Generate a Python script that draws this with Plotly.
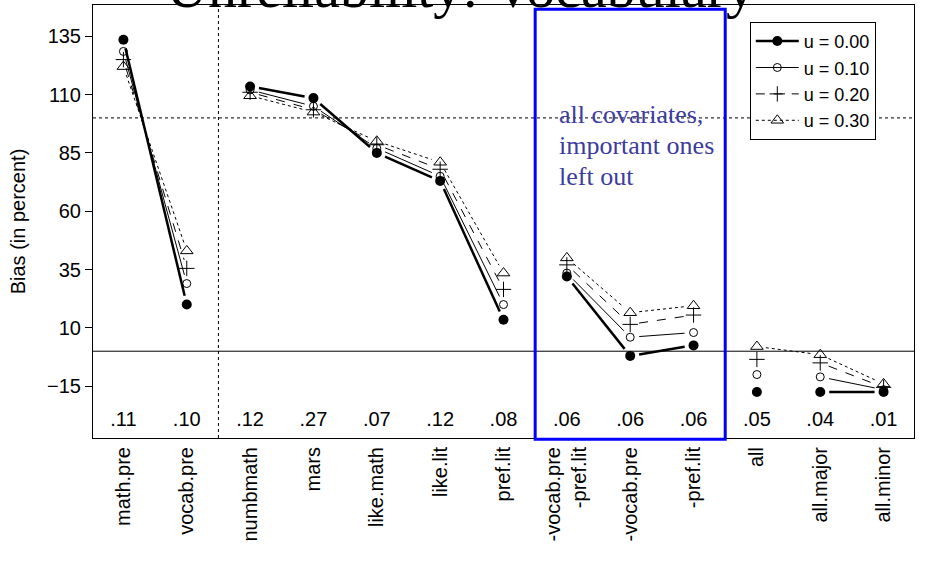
import math
import plotly.graph_objects as go

categories = ["math.pre", "vocab.pre", "numbmath", "mars", "like.math", "like.lit", "pref.lit",
              "-vocab.pre<br>-pref.lit", "-vocab.pre", "-pref.lit", "all", "all.major", "all.minor"]
bottom_labels = [".11", ".10", ".12", ".27", ".07", ".12", ".08", ".06", ".06", ".06", ".05", ".04", ".01"]

u000 = [133.5, 20.0, 113.5, 108.5, 85.0, 73.0, 13.5, 32.0, -2.0, 2.5, -17.5, -17.5, -17.5]
u010 = [128.5, 29.0, 112.0, 105.0, 87.0, 75.0, 20.0, 33.5, 6.0, 8.0, -10.0, -11.0, -16.5]
u020 = [125.0, 35.5, 111.0, 103.5, 88.5, 78.0, 26.5, 37.0, 11.5, 15.5, -3.5, -5.0, -15.5]
u030 = [122.0, 43.0, 109.5, 102.5, 90.0, 81.0, 33.5, 40.0, 16.5, 19.5, 2.0, -1.5, -14.0]

groups_a = [[0, 1], [2, 3, 4, 5, 6], [7, 8, 9], [11, 12]]
groups_b = [[0, 1], [2, 3, 4, 5, 6], [7, 8, 9], [10, 11, 12]]

ytickvals = [135, 110, 85, 60, 35, 10, -15]
note_lines = ["all covariates,", "important ones", "left out"]

W, H = 929, 577
ML, MR, MT, MB = 93, 15, 5, 139
XR = [0.52, 13.48]
YR = [-37.2, 148.4]
pxx = (W - ML - MR) / (XR[1] - XR[0])
pxy = (H - MT - MB) / (YR[1] - YR[0])

xs = list(range(1, len(categories) + 1))
SANS = "Liberation Sans"
SERIF = "Liberation Serif"
FS = 20


def gapped(ys, groups, gap=9.0):
    X, Y = [], []
    for g in groups:
        for a, b in zip(g[:-1], g[1:]):
            x1, y1, x2, y2 = xs[a], ys[a], xs[b], ys[b]
            L = math.hypot((x2 - x1) * pxx, (y2 - y1) * pxy)
            f = gap / L
            X += [x1 + (x2 - x1) * f, x2 - (x2 - x1) * f, None]
            Y += [y1 + (y2 - y1) * f, y2 - (y2 - y1) * f, None]
    return X, Y


series = [
    ("u = 0.00", u000, groups_a, dict(width=2.5, dash="solid"),
     dict(symbol="circle", size=10, color="black")),
    ("u = 0.10", u010, groups_a, dict(width=1, dash="solid"),
     dict(symbol="circle-open", size=8, color="black", line=dict(width=1, color="black"))),
    ("u = 0.20", u020, groups_a, dict(width=1, dash="dash"),
     dict(symbol="cross-thin-open", size=11, color="black", line=dict(width=1, color="black"))),
    ("u = 0.30", u030, groups_b, dict(width=1, dash="dot"),
     dict(symbol="triangle-up-open", size=11, color="black", line=dict(width=1, color="black"))),
]

fig = go.Figure()
for name, ys, groups, ln, mk in series:
    X, Y = gapped(ys, groups)
    fig.add_trace(go.Scatter(x=X, y=Y, mode="lines", line=dict(color="black", **ln),
                             showlegend=False, hoverinfo="skip"))
    fig.add_trace(go.Scatter(x=xs, y=ys, mode="markers", marker=mk, showlegend=False))
    fig.add_trace(go.Scatter(x=[None], y=[None], mode="lines+markers", name=name,
                             line=dict(color="black", **ln), marker=mk))

fig.add_trace(go.Scatter(x=xs, y=[-30] * len(xs), mode="text", text=bottom_labels,
                         textfont=dict(family=SANS, size=FS, color="black"),
                         showlegend=False, hoverinfo="skip"))

# reference lines
fig.add_hline(y=0, line=dict(color="black", width=1), layer="below")
fig.add_hline(y=100, line=dict(color="black", width=1, dash="dot"), layer="below")
fig.add_vline(x=2.5, line=dict(color="black", width=1, dash="dot"), layer="below")

# highlight box
fig.add_shape(type="rect", xref="x", yref="paper", x0=7.5, x1=10.5, y0=-0.003, y1=0.99,
              line=dict(color="#0000ff", width=3), fillcolor="rgba(0,0,0,0)")

for i, line in enumerate(note_lines):
    fig.add_annotation(x=7.85, y=88, xref="x", yref="y", xanchor="left", yanchor="middle",
                       yshift=31 * (1 - i), align="left", showarrow=False, text=line,
                       font=dict(family=SERIF, size=26, color="#3c3ca0"))

fig.add_annotation(x=0.448, y=1, xref="paper", yref="paper", xanchor="center", yanchor="bottom",
                   yshift=-17, showarrow=False, text="Unreliability: Vocabulary",
                   font=dict(family=SERIF, size=58, color="black"))

fig.update_layout(
    width=W, height=H,
    margin=dict(l=ML, r=MR, t=MT, b=MB, pad=0),
    paper_bgcolor="white", plot_bgcolor="white",
    font=dict(family=SANS, size=FS, color="black"),
    legend=dict(x=0.80, y=0.961, xanchor="left", yanchor="top", bgcolor="white",
                bordercolor="black", borderwidth=1, font=dict(size=18),
                tracegroupgap=0, itemwidth=43),
    xaxis=dict(range=XR, tickvals=xs, ticktext=categories, tickangle=-90, ticks="",
               showgrid=False, zeroline=False, showline=True, mirror=True,
               linecolor="black", linewidth=1, tickfont=dict(size=FS)),
    yaxis=dict(range=YR, tickvals=ytickvals, ticks="outside", ticklen=7, tickcolor="black",
               showgrid=False, zeroline=False, showline=True, mirror=True,
               linecolor="black", linewidth=1, tickfont=dict(size=FS),
               title=dict(text="Bias (in percent)", font=dict(size=FS), standoff=16)),
)

fig.write_html("out.html")
